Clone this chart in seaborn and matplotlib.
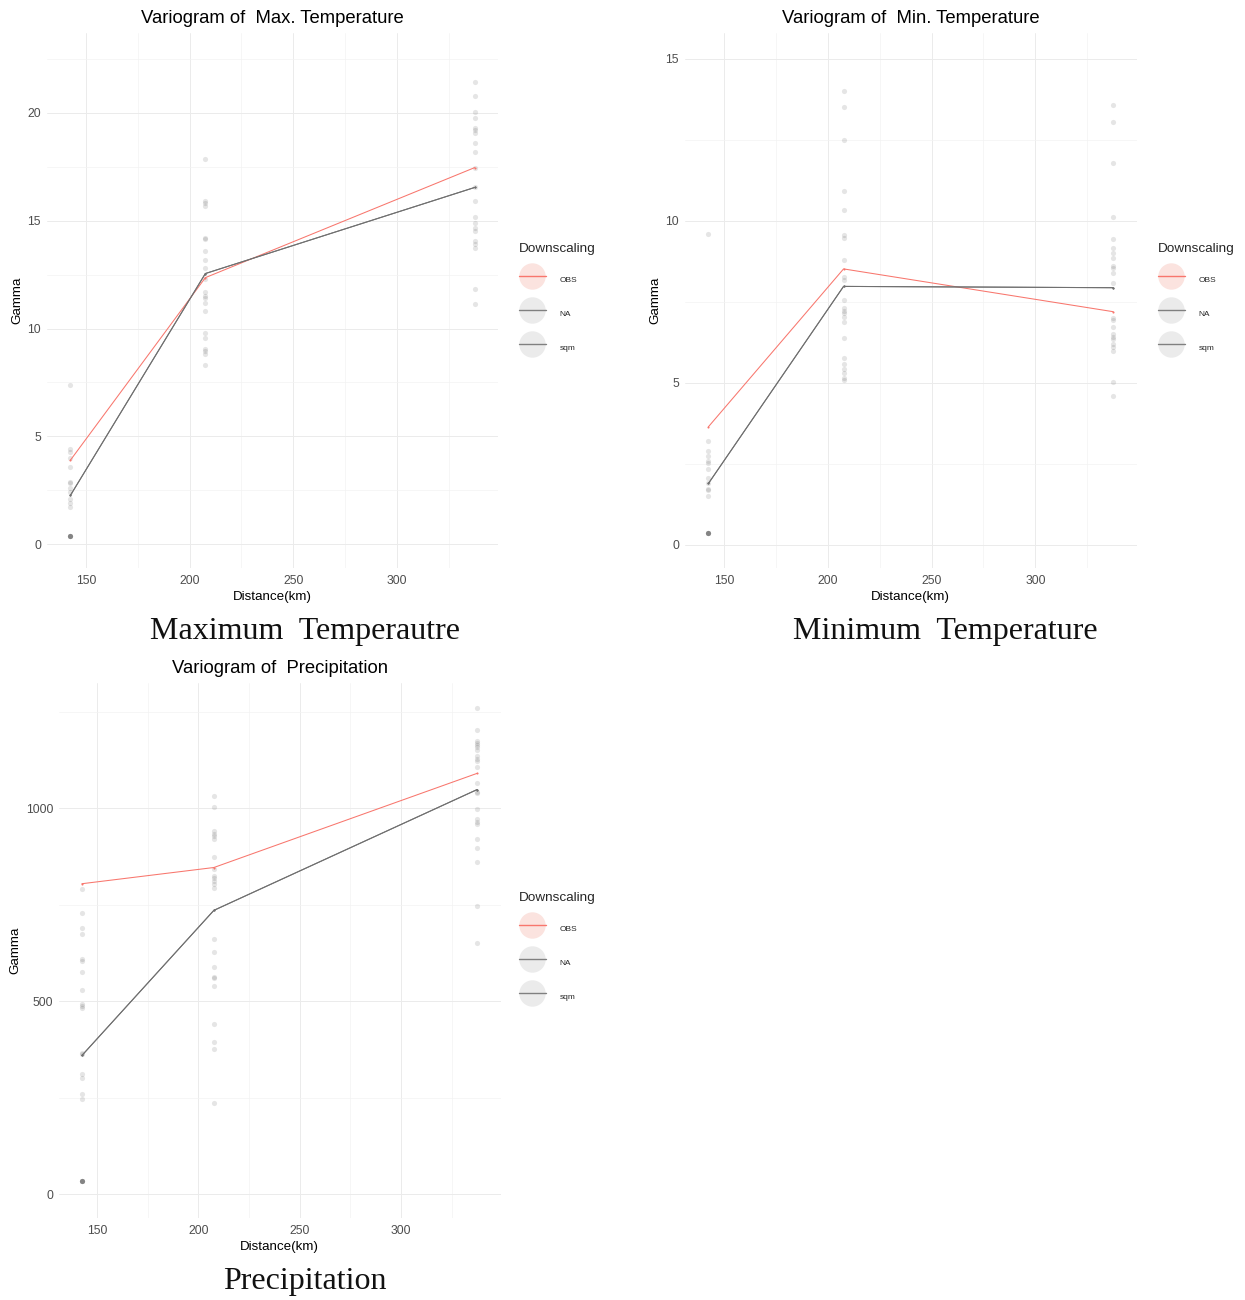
import matplotlib
matplotlib.use('Agg')
import matplotlib.pyplot as plt
from matplotlib.lines import Line2D
from matplotlib.ticker import MultipleLocator
import pandas as pd
import seaborn as sns

# distance bins (km)
dist = [142.5, 207.6, 337.5]

# Max. temperature
tmax_obs = [3.9, 12.36, 17.46]
tmax_na = [2.27, 12.55, 16.54]
tmax_sqm = [2.27, 12.55, 16.54]
tmax_pts1 = [7.4, 4.4, 4.3, 4.0, 3.6, 2.9, 2.85, 2.6, 2.4, 2.1, 1.9, 1.75,
             0.37, 0.37, 0.37, 0.37, 0.37, 0.37]
tmax_pts2 = [17.87, 15.9, 15.8, 15.7, 14.2, 14.15, 13.6, 13.2, 12.8, 12.3, 11.7,
             11.5, 11.4, 11.2, 10.8, 9.8, 9.55, 9.07, 8.94, 8.84, 8.33]
tmax_pts3 = [21.45, 20.8, 20.05, 19.77, 19.31, 19.2, 19.08, 18.62, 18.2, 17.46,
             16.54, 15.92, 15.18, 14.88, 14.65, 14.5, 14.04, 13.9, 13.73, 11.82, 11.16]

# Min. temperature
tmin_obs = [3.65, 8.52, 7.2]
tmin_na = [1.9, 7.98, 7.94]
tmin_sqm = [1.9, 7.98, 7.94]
tmin_pts1 = [9.6, 3.22, 2.91, 2.76, 2.59, 2.54, 2.34, 2.08, 1.9, 1.72, 1.69, 1.51,
             0.38, 0.38, 0.38, 0.38, 0.38, 0.38]
tmin_pts2 = [14.02, 13.53, 12.5, 10.93, 10.34, 9.57, 9.47, 8.78, 8.28, 8.18, 7.56,
             7.3, 7.23, 7.15, 7.05, 6.88, 6.38, 5.76, 5.58, 5.42, 5.3, 5.14, 5.09]
tmin_pts3 = [13.57, 13.06, 11.8, 10.13, 9.43, 9.18, 9.0, 8.85, 8.61, 8.56, 8.4, 8.1,
             7.02, 6.93, 6.74, 6.5, 6.43, 6.35, 6.19, 6.11, 5.99, 5.04, 4.6]

# Precipitation
prec_obs = [804, 846, 1090]
prec_na = [359, 735, 1048]
prec_sqm = [359, 735, 1048]
prec_pts1 = [791, 727, 690, 673, 610, 604, 575, 529, 493, 487, 481, 366, 362,
             310, 301, 258, 245, 33, 33, 33, 33, 33, 33]
prec_pts2 = [1031, 1002, 941, 933, 927, 919, 872, 842, 824, 820, 811, 803, 794,
             660, 626, 587, 563, 559, 539, 440, 394, 375, 237]
prec_pts3 = [1260, 1201, 1175, 1169, 1164, 1159, 1151, 1136, 1127, 1123, 1106,
             1064, 1042, 1039, 997, 972, 963, 960, 921, 896, 860, 747, 651]

groups = ['OBS', 'NA', 'sqm']
line_cols = {'OBS': '#F8766D', 'NA': '#707070', 'sqm': '#707070'}

sns.set_theme(style='whitegrid')
plt.rcParams['font.family'] = ['Liberation Sans', 'DejaVu Sans']

W, H = 1245, 1300
fig = plt.figure(figsize=(W / 100, H / 100), dpi=100)


def px_axes(left, top, right, bottom):
    return fig.add_axes([left / W, 1 - bottom / H, (right - left) / W, (bottom - top) / H])


def panel(ax, title, obs, na, sqm, pts1, pts2, pts3, ylim, ymaj, ymin):
    pts = pd.DataFrame({
        'dist': [dist[0]] * len(pts1) + [dist[1]] * len(pts2) + [dist[2]] * len(pts3),
        'gamma': pts1 + pts2 + pts3})
    sns.scatterplot(data=pts, x='dist', y='gamma', ax=ax, color='black', alpha=0.1,
                    s=14, linewidth=0, zorder=2)
    lines = pd.DataFrame({'dist': dist * 3, 'gamma': obs + na + sqm,
                          'Downscaling': ['OBS'] * 3 + ['NA'] * 3 + ['sqm'] * 3})
    sns.lineplot(data=lines, x='dist', y='gamma', hue='Downscaling', palette=line_cols,
                 ax=ax, lw=0.75, marker='o', markersize=1.5, markeredgewidth=0,
                 legend=False, zorder=3)
    ax.set_xlim(131, 349)
    ax.set_ylim(*ylim)
    ax.xaxis.set_major_locator(MultipleLocator(50))
    ax.xaxis.set_minor_locator(MultipleLocator(25))
    ax.yaxis.set_major_locator(MultipleLocator(ymaj))
    ax.yaxis.set_minor_locator(MultipleLocator(ymin))
    ax.grid(which='major', color='#EBEBEB', lw=0.7)
    ax.grid(which='minor', color='#F3F3F3', lw=0.5)
    ax.tick_params(which='both', length=0, labelsize=8.7, labelcolor='#4D4D4D', pad=4)
    ax.tick_params(axis='x', pad=5)
    sns.despine(ax=ax, left=True, bottom=True)
    ax.set_facecolor('white')
    ax.set_title(title, fontsize=13.3, pad=7, color='black')
    ax.set_xlabel('Distance(km)', fontsize=9.6, labelpad=3, color='black')
    ax.set_ylabel('Gamma', fontsize=9.6, labelpad=3, color='black')


def legend_at(x, y):
    handles = []
    for g in groups:
        face = '#FBE3DF' if g == 'OBS' else '#EBEBEB'
        lc = '#F8766D' if g == 'OBS' else '#808080'
        circ = Line2D([], [], linestyle='none', marker='o', markersize=19,
                      markerfacecolor=face, markeredgewidth=0)
        ln = Line2D([], [], color=lc, lw=1)
        handles.append((circ, ln))
    fig.legend(handles, groups, loc='upper left', bbox_to_anchor=(x / W, 1 - y / H),
               frameon=False, borderpad=0, borderaxespad=0, title='Downscaling',
               title_fontsize=9.7, fontsize=6, numpoints=1, handlelength=3.2,
               handleheight=3.15, labelspacing=1.78, handletextpad=1.7,
               alignment='left')


ax1 = px_axes(46.6, 33, 498.5, 568)
panel(ax1, 'Variogram of  Max. Temperature', tmax_obs, tmax_na, tmax_sqm,
      tmax_pts1, tmax_pts2, tmax_pts3, (-1.1, 23.7), 5, 2.5)
legend_at(519, 243)

ax2 = px_axes(684.6, 33, 1137.0, 568)
panel(ax2, 'Variogram of  Min. Temperature', tmin_obs, tmin_na, tmin_sqm,
      tmin_pts1, tmin_pts2, tmin_pts3, (-0.71, 15.8), 5, 2.5)
legend_at(1158, 243)

ax3 = px_axes(58.6, 683, 500.5, 1218)
panel(ax3, 'Variogram of  Precipitation', prec_obs, prec_na, prec_sqm,
      prec_pts1, prec_pts2, prec_pts3, (-62, 1324), 500, 250)
legend_at(519, 892)

cap = dict(family=['Liberation Serif', 'DejaVu Serif'], fontsize=23, ha='center',
           va='center', color='#111111')
fig.text(305 / W, 1 - 632 / H, 'Maximum  Temperautre', **cap)
fig.text(945 / W, 1 - 632 / H, 'Minimum  Temperature', **cap)
fig.text(305 / W, 1 - 1281 / H, 'Precipitation', **cap)

fig.savefig('out.png', dpi=100, facecolor='white')
